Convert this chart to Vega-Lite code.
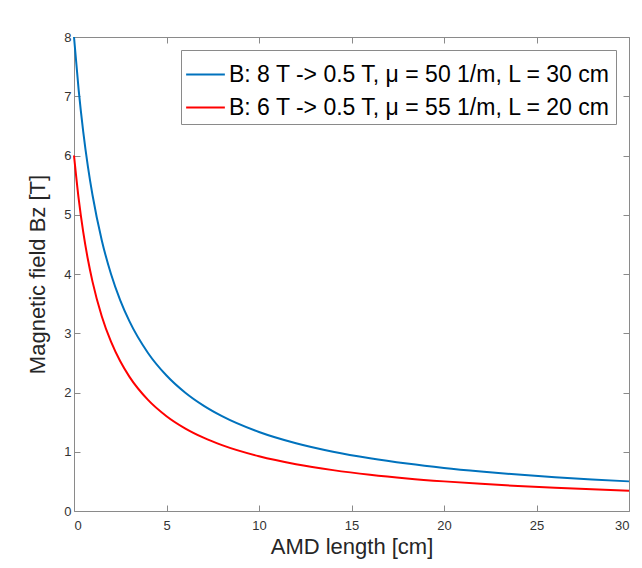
{
  "$schema": "https://vega.github.io/schema/vega-lite/v6.json",
  "width": 555,
  "height": 474,
  "autosize": "none",
  "padding": {"left": 74, "top": 37, "right": 13, "bottom": 57},
  "background": "white",
  "config": {
    "view": {"stroke": "#8a8a8a", "strokeWidth": 1},
    "font": "Liberation Sans"
  },
  "data": {"values": [
    {"z": 0, "B": 8, "s": "B: 8 T -> 0.5 T, μ = 50 1/m, L = 30 cm"},
    {"z": 0.25, "B": 7.111, "s": "B: 8 T -> 0.5 T, μ = 50 1/m, L = 30 cm"},
    {"z": 0.5, "B": 6.4, "s": "B: 8 T -> 0.5 T, μ = 50 1/m, L = 30 cm"},
    {"z": 0.75, "B": 5.818, "s": "B: 8 T -> 0.5 T, μ = 50 1/m, L = 30 cm"},
    {"z": 1, "B": 5.333, "s": "B: 8 T -> 0.5 T, μ = 50 1/m, L = 30 cm"},
    {"z": 1.5, "B": 4.571, "s": "B: 8 T -> 0.5 T, μ = 50 1/m, L = 30 cm"},
    {"z": 2, "B": 4.0, "s": "B: 8 T -> 0.5 T, μ = 50 1/m, L = 30 cm"},
    {"z": 2.5, "B": 3.556, "s": "B: 8 T -> 0.5 T, μ = 50 1/m, L = 30 cm"},
    {"z": 3, "B": 3.2, "s": "B: 8 T -> 0.5 T, μ = 50 1/m, L = 30 cm"},
    {"z": 4, "B": 2.667, "s": "B: 8 T -> 0.5 T, μ = 50 1/m, L = 30 cm"},
    {"z": 5, "B": 2.286, "s": "B: 8 T -> 0.5 T, μ = 50 1/m, L = 30 cm"},
    {"z": 6, "B": 2.0, "s": "B: 8 T -> 0.5 T, μ = 50 1/m, L = 30 cm"},
    {"z": 7, "B": 1.778, "s": "B: 8 T -> 0.5 T, μ = 50 1/m, L = 30 cm"},
    {"z": 8, "B": 1.6, "s": "B: 8 T -> 0.5 T, μ = 50 1/m, L = 30 cm"},
    {"z": 10, "B": 1.333, "s": "B: 8 T -> 0.5 T, μ = 50 1/m, L = 30 cm"},
    {"z": 12, "B": 1.143, "s": "B: 8 T -> 0.5 T, μ = 50 1/m, L = 30 cm"},
    {"z": 14, "B": 1.0, "s": "B: 8 T -> 0.5 T, μ = 50 1/m, L = 30 cm"},
    {"z": 16, "B": 0.889, "s": "B: 8 T -> 0.5 T, μ = 50 1/m, L = 30 cm"},
    {"z": 18, "B": 0.8, "s": "B: 8 T -> 0.5 T, μ = 50 1/m, L = 30 cm"},
    {"z": 20, "B": 0.727, "s": "B: 8 T -> 0.5 T, μ = 50 1/m, L = 30 cm"},
    {"z": 22, "B": 0.667, "s": "B: 8 T -> 0.5 T, μ = 50 1/m, L = 30 cm"},
    {"z": 24, "B": 0.615, "s": "B: 8 T -> 0.5 T, μ = 50 1/m, L = 30 cm"},
    {"z": 26, "B": 0.571, "s": "B: 8 T -> 0.5 T, μ = 50 1/m, L = 30 cm"},
    {"z": 28, "B": 0.533, "s": "B: 8 T -> 0.5 T, μ = 50 1/m, L = 30 cm"},
    {"z": 30, "B": 0.5, "s": "B: 8 T -> 0.5 T, μ = 50 1/m, L = 30 cm"},
    {"z": 0, "B": 6, "s": "B: 6 T -> 0.5 T, μ = 55 1/m, L = 20 cm"},
    {"z": 0.25, "B": 5.275, "s": "B: 6 T -> 0.5 T, μ = 55 1/m, L = 20 cm"},
    {"z": 0.5, "B": 4.706, "s": "B: 6 T -> 0.5 T, μ = 55 1/m, L = 20 cm"},
    {"z": 0.75, "B": 4.248, "s": "B: 6 T -> 0.5 T, μ = 55 1/m, L = 20 cm"},
    {"z": 1, "B": 3.871, "s": "B: 6 T -> 0.5 T, μ = 55 1/m, L = 20 cm"},
    {"z": 1.5, "B": 3.288, "s": "B: 6 T -> 0.5 T, μ = 55 1/m, L = 20 cm"},
    {"z": 2, "B": 2.857, "s": "B: 6 T -> 0.5 T, μ = 55 1/m, L = 20 cm"},
    {"z": 2.5, "B": 2.526, "s": "B: 6 T -> 0.5 T, μ = 55 1/m, L = 20 cm"},
    {"z": 3, "B": 2.264, "s": "B: 6 T -> 0.5 T, μ = 55 1/m, L = 20 cm"},
    {"z": 4, "B": 1.875, "s": "B: 6 T -> 0.5 T, μ = 55 1/m, L = 20 cm"},
    {"z": 5, "B": 1.6, "s": "B: 6 T -> 0.5 T, μ = 55 1/m, L = 20 cm"},
    {"z": 6, "B": 1.395, "s": "B: 6 T -> 0.5 T, μ = 55 1/m, L = 20 cm"},
    {"z": 7, "B": 1.237, "s": "B: 6 T -> 0.5 T, μ = 55 1/m, L = 20 cm"},
    {"z": 8, "B": 1.111, "s": "B: 6 T -> 0.5 T, μ = 55 1/m, L = 20 cm"},
    {"z": 10, "B": 0.923, "s": "B: 6 T -> 0.5 T, μ = 55 1/m, L = 20 cm"},
    {"z": 12, "B": 0.789, "s": "B: 6 T -> 0.5 T, μ = 55 1/m, L = 20 cm"},
    {"z": 14, "B": 0.69, "s": "B: 6 T -> 0.5 T, μ = 55 1/m, L = 20 cm"},
    {"z": 16, "B": 0.612, "s": "B: 6 T -> 0.5 T, μ = 55 1/m, L = 20 cm"},
    {"z": 18, "B": 0.55, "s": "B: 6 T -> 0.5 T, μ = 55 1/m, L = 20 cm"},
    {"z": 20, "B": 0.5, "s": "B: 6 T -> 0.5 T, μ = 55 1/m, L = 20 cm"},
    {"z": 22, "B": 0.458, "s": "B: 6 T -> 0.5 T, μ = 55 1/m, L = 20 cm"},
    {"z": 24, "B": 0.423, "s": "B: 6 T -> 0.5 T, μ = 55 1/m, L = 20 cm"},
    {"z": 26, "B": 0.392, "s": "B: 6 T -> 0.5 T, μ = 55 1/m, L = 20 cm"},
    {"z": 28, "B": 0.366, "s": "B: 6 T -> 0.5 T, μ = 55 1/m, L = 20 cm"},
    {"z": 30, "B": 0.343, "s": "B: 6 T -> 0.5 T, μ = 55 1/m, L = 20 cm"}
  ]},
  "layer": [
    {
      "mark": {"type": "line", "interpolate": "monotone", "strokeWidth": 2},
      "encoding": {
        "x": {"field": "z", "type": "quantitative", "scale": {"domain": [0, 30], "nice": false}, "axis": {"title": "AMD length [cm]", "values": [0, 5, 10, 15, 20, 25, 30], "grid": false, "domain": false, "offset": -6, "ticks": true, "tickSize": 6, "tickWidth": 1, "tickColor": "#8a8a8a", "labelFontSize": 13, "labelColor": "#333333", "labelPadding": 8, "titleFontSize": 22, "titleFontWeight": "normal", "titleColor": "#262626", "titlePadding": 4}},
        "y": {"field": "B", "type": "quantitative", "scale": {"domain": [0, 8], "nice": false}, "axis": {"title": "Magnetic field Bz [T]", "values": [0, 1, 2, 3, 4, 5, 6, 7, 8], "grid": false, "domain": false, "offset": -6, "ticks": true, "tickSize": 6, "tickWidth": 1, "tickColor": "#8a8a8a", "labelFontSize": 13, "labelColor": "#333333", "labelPadding": 3, "titleFontSize": 22, "titleFontWeight": "normal", "titleColor": "#262626", "titlePadding": 14}},
        "color": {"field": "s", "type": "nominal", "sort": ["B: 8 T -> 0.5 T, μ = 50 1/m, L = 30 cm", "B: 6 T -> 0.5 T, μ = 55 1/m, L = 20 cm"], "scale": {"range": ["#0072BD", "#FF0000"]},
          "legend": {"title": null, "orient": "top-right", "offset": 13, "symbolType": "stroke", "symbolSize": 1500, "symbolStrokeWidth": 2, "labelFontSize": 23, "labelColor": "#000000", "labelOffset": 3, "rowPadding": 0, "padding": 4, "fillColor": "white", "strokeColor": "#8a8a8a", "labelLimit": 600, "symbolOffset": 0}}
      }
    },
    {
      "mark": {"type": "line", "opacity": 0},
      "encoding": {
        "x": {"field": "z", "type": "quantitative", "axis": {"orient": "top", "labels": false, "title": null, "values": [0, 5, 10, 15, 20, 25, 30], "grid": false, "domain": false, "offset": -6, "ticks": true, "tickSize": 6, "tickWidth": 1, "tickColor": "#8a8a8a"}},
        "y": {"field": "B", "type": "quantitative", "axis": {"orient": "right", "labels": false, "title": null, "values": [0, 1, 2, 3, 4, 5, 6, 7, 8], "grid": false, "domain": false, "offset": -6, "ticks": true, "tickSize": 6, "tickWidth": 1, "tickColor": "#8a8a8a"}},
        "detail": {"field": "s"}
      }
    }
  ],
  "resolve": {"axis": {"x": "independent", "y": "independent"}}
}
